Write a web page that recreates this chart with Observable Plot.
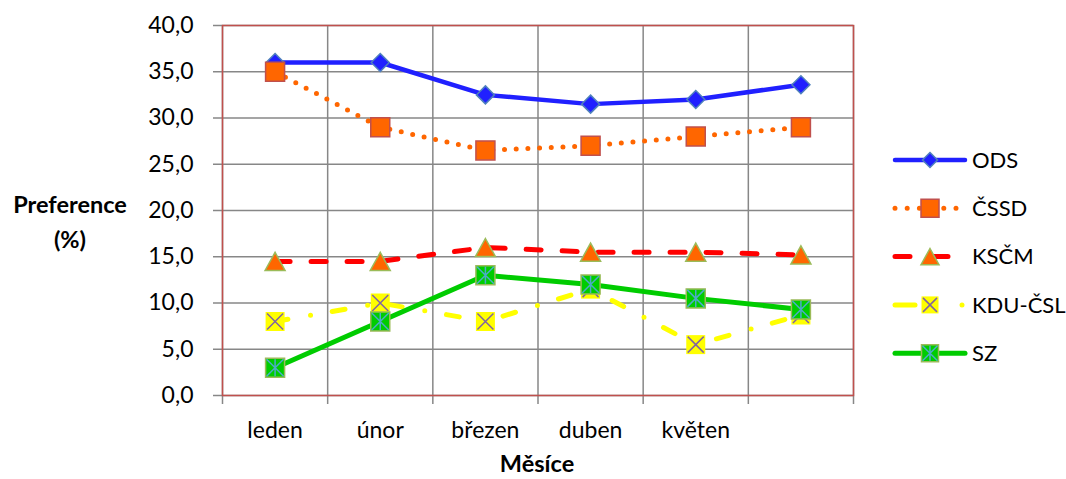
<!DOCTYPE html>
<html><head><meta charset="utf-8">
<script src="https://cdn.jsdelivr.net/npm/d3@7"></script>
<script src="https://cdn.jsdelivr.net/npm/@observablehq/plot@0.6"></script>
<style>
body{margin:0;background:#fff;}
#chart{width:1066px;height:479px;}
</style></head><body><div id="chart"></div>
<script>
// ---- data ----
const months = ["leden", "únor", "březen", "duben", "květen", ""];
const ods  = [36, 36, 32.5, 31.5, 32, 33.6];
const cssd = [35, 29, 26.5, 27, 28, 29];
const kscm = [14.5, 14.5, 16, 15.5, 15.5, 15.2];
const kdu  = [8, 10, 8, 11.5, 5.5, 8.7];
const sz   = [3, 8, 13, 12, 10.5, 9.3];
const seriesNames = ["ODS", "ČSSD", "KSČM", "KDU-ČSL", "SZ"];
const yTicks = [0, 5, 10, 15, 20, 25, 30, 35, 40];
const yLabel = ["Preference", "(%)"];
const xLabel = "Měsíce";

const FONT = "Lato, 'Open Sans', sans-serif";

// ---- custom symbols (size = side^2) ----
const sq = {draw(c, size){ const h = Math.sqrt(size)/2; c.moveTo(-h,-h); c.lineTo(h,-h); c.lineTo(h,h); c.lineTo(-h,h); c.closePath(); }};
const dia = {draw(c, size){ const h = Math.sqrt(size)/2; c.moveTo(0,-h); c.lineTo(h,0); c.lineTo(0,h); c.lineTo(-h,0); c.closePath(); }};
const tri = {draw(c, size){ const h = Math.sqrt(size)/2; c.moveTo(0,-0.9*h); c.lineTo(h,0.9*h); c.lineTo(-h,0.9*h); c.closePath(); }};
const times = {draw(c, size){ const h = Math.sqrt(size)/2; c.moveTo(-h,-h); c.lineTo(h,h); c.moveTo(-h,h); c.lineTo(h,-h); }};
const star = {draw(c, size){ const h = Math.sqrt(size)/2; c.moveTo(0,-h); c.lineTo(0,h); c.moveTo(-h,-h); c.lineTo(h,h); c.moveTo(-h,h); c.lineTo(h,-h); }};
const R = s => s / Math.sqrt(Math.PI);

const styles = [
  {vals: ods,  stroke: "#2020ff", width: 4.5, dash: null, markers: [{sym: dia, s: 18, ls: 15, fill: "#2020ff", stroke: "#4f81bd"}]},
  {vals: cssd, stroke: "#ff6600", width: 5, dash: "0 11.7", markers: [{sym: sq, s: 19, ls: 18, fill: "#ff6600", stroke: "#c0504d"}]},
  {vals: kscm, stroke: "#ff0000", width: 5, dash: "15 21", markers: [{sym: tri, s: 20, ls: 18, fill: "#ff6600", stroke: "#9bbb59"}]},
  {vals: kdu,  stroke: "#ffff00", width: 5, dash: "13 23 0 22", markers: [{sym: sq, s: 19, ls: 17, fill: "#ffff00", stroke: "none"}, {sym: times, s: 16, ls: 14, fill: "none", stroke: "#8064a2"}]},
  {vals: sz,   stroke: "#00cc00", width: 5, dash: null, markers: [{sym: sq, s: 19, ls: 17, fill: "#00cc00", stroke: "#9bbb59"}, {sym: star, s: 17, ls: 15, fill: "none", stroke: "#4bacc6"}]}
];

const idx = d3.range(months.length);
const bounds = d3.range(months.length + 1).map(i => i - 0.5);
const rows = vals => vals.map((v, i) => ({i, v}));

const seriesMarks = [];
styles.forEach(st => {
  const data = rows(st.vals);
  seriesMarks.push(Plot.line(data, {x: "i", y: "v", stroke: st.stroke, strokeWidth: st.width,
    strokeDasharray: st.dash || undefined, strokeLinecap: "round", strokeLinejoin: "round"}));
  st.markers.forEach(m => {
    seriesMarks.push(Plot.dot(data, {x: "i", y: "v", symbol: m.sym, r: R(m.s), fill: m.fill, stroke: m.stroke, strokeWidth: 1.5}));
  });
});

const plot = Plot.plot({
  width: 1066, height: 479,
  marginLeft: 222, marginRight: 213, marginTop: 25, marginBottom: 84,
  style: {fontFamily: FONT, fontSize: "23px", background: "#fff", color: "#000"},
  x: {domain: [-0.5, months.length - 0.5]},
  y: {domain: [0, 40]},
  marks: [
    Plot.gridY(yTicks, {stroke: "#878787", strokeOpacity: 1, strokeWidth: 1.5}),
    Plot.gridX(bounds, {stroke: "#878787", strokeOpacity: 1, strokeWidth: 1.5}),
    Plot.axisY(yTicks, {tickSize: 9, tickPadding: 20, tickFormat: d => d.toFixed(1).replace(".", ","), stroke: "#878787", strokeWidth: 1.5, fontSize: 23, label: null}),
    Plot.axisX(bounds, {tickSize: 9, tickFormat: () => "", stroke: "#878787", strokeWidth: 1.5, label: null}),
    Plot.axisX(idx, {tickSize: 0, tickPadding: 26, tickFormat: i => months[i], fontSize: 23, label: null}),
    Plot.frame({stroke: "#c0504d", strokeWidth: 1.5}),
    ...seriesMarks
  ]
});
document.getElementById("chart").appendChild(plot);

// ---- axis titles & legend ----
const svg = d3.select(plot);
const t = svg.append("g").attr("font-family", FONT).attr("font-weight", "bold").attr("font-size", 23.5).attr("fill", "#000").attr("text-anchor", "middle");
t.append("text").attr("x", 70).attr("y", 213).text(yLabel[0]);
t.append("text").attr("x", 70).attr("y", 248).text(yLabel[1]);
t.append("text").attr("x", 537).attr("y", 472).text(xLabel);

const lg = svg.append("g");
styles.forEach((st, k) => {
  const y = 160 + k * 48.3;
  const x0 = 895, x1 = 965, xm = 930;
  if (k === 3) {
    lg.append("line").attr("x1", 895).attr("x2", 915).attr("y1", y).attr("y2", y)
      .attr("stroke", st.stroke).attr("stroke-width", st.width).attr("stroke-linecap", "round");
    lg.append("circle").attr("cx", 962).attr("cy", y).attr("r", 2.5).attr("fill", st.stroke);
  } else {
    lg.append("line").attr("x1", x0).attr("x2", x1).attr("y1", y).attr("y2", y)
      .attr("stroke", st.stroke).attr("stroke-width", st.width).attr("stroke-linecap", "round")
      .attr("stroke-dasharray", k === 1 ? "0 12.2" : k === 2 ? "15 23" : null);
  }
  st.markers.forEach(m => {
    lg.append("path").attr("transform", `translate(${xm},${y})`)
      .attr("d", d3.symbol(m.sym, m.ls * m.ls)())
      .attr("fill", m.fill).attr("stroke", m.stroke).attr("stroke-width", 1.5);
  });
  lg.append("text").attr("x", 972).attr("y", y).attr("dy", "0.35em").attr("text-anchor", "start")
    .attr("font-family", FONT).attr("font-size", 22).attr("fill", "#000")
    .text(seriesNames[k]);
});
</script></body></html>
